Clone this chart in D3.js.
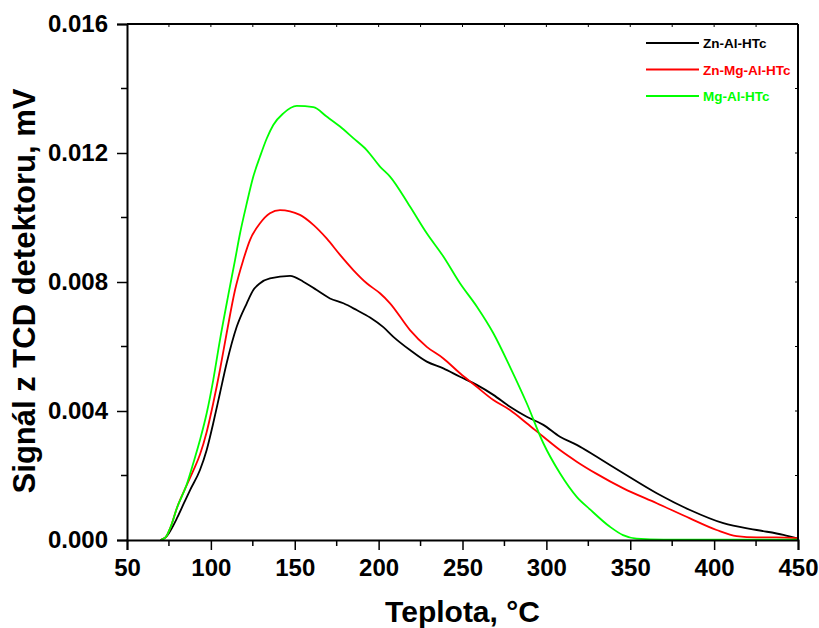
<!DOCTYPE html>
<html>
<head>
<meta charset="utf-8">
<script src="https://cdn.jsdelivr.net/npm/d3@7"></script>
<style>
  body { margin: 0; background: #fff; }
  svg text { font-family: "Liberation Sans", Arial, sans-serif; font-weight: bold; }
</style>
</head>
<body>
<div id="chart"></div>
<script>
/* global d3 */
// TPD profiles: temperature (°C) and TCD signal (mV)
var znAlT = [70, 73, 76, 80, 84, 87.6, 93.5, 97.5, 101.4, 105.4, 109.4, 115.4, 121.4, 125.3, 129.3, 135.2, 147.2, 155.1, 163.1, 171, 179, 186.9, 194.9, 202.8, 208.8, 218.7, 228.7, 238.6, 248.5, 258.5, 268.4, 278.3, 288.3, 298.2, 308.1, 318.1, 330, 345.9, 365.8, 385.6, 405.5, 425.4, 441.3, 450];
var znAlV = [0, 0.00008, 0.0003, 0.0007, 0.00115, 0.00155, 0.00217, 0.00279, 0.00362, 0.00455, 0.00548, 0.00661, 0.00734, 0.00775, 0.00796, 0.00811, 0.00819, 0.00801, 0.00775, 0.00749, 0.00734, 0.00713, 0.0069, 0.0066, 0.0063, 0.00589, 0.00553, 0.00532, 0.00506, 0.00481, 0.0045, 0.00413, 0.00382, 0.00357, 0.0032, 0.00295, 0.00258, 0.00207, 0.00145, 0.00093, 0.00052, 0.00031, 0.00016, 0.00004];

var znMgAlT = [70, 73, 76, 79.8, 85.6, 89.5, 93.5, 97.5, 101.4, 105.4, 109.4, 114.4, 119.3, 123.3, 129.3, 135.2, 141.2, 153.1, 161.1, 169, 177, 184.9, 192.9, 200.8, 206.8, 218.7, 228.7, 238.6, 248.5, 258.5, 268.4, 278.3, 288.3, 298.2, 308.1, 318.1, 330, 345.9, 365.8, 385.6, 401.5, 413.4, 425.4, 437, 450];
var znMgAlV = [0, 0.00008, 0.0004, 0.001, 0.0017, 0.00215, 0.00265, 0.00335, 0.00424, 0.00527, 0.00641, 0.00775, 0.00868, 0.0093, 0.00982, 0.01013, 0.01023, 0.01008, 0.00977, 0.00935, 0.00884, 0.00837, 0.00796, 0.00765, 0.00734, 0.00651, 0.00599, 0.00563, 0.00517, 0.00475, 0.00434, 0.00403, 0.00362, 0.0032, 0.00279, 0.00243, 0.00205, 0.0016, 0.00114, 0.00067, 0.00031, 0.00012, 0.00008, 0.00008, 0.00006];

var mgAlT = [70, 73, 76, 79.8, 85.6, 89.5, 93.5, 97.5, 101.4, 105.4, 110.4, 114.4, 117.4, 121.4, 125.3, 129.3, 133.3, 137.2, 143.2, 151.2, 161.1, 169, 177, 184.9, 192.9, 200.8, 206.8, 218.7, 228.7, 238.6, 248.5, 258.5, 268.4, 278.3, 288.3, 298.2, 308.1, 318.1, 326, 337.9, 345.7, 353.8, 370, 400, 450];
var mgAlV = [0, 0.00008, 0.0004, 0.001, 0.00172, 0.00238, 0.0031, 0.00393, 0.00496, 0.0062, 0.0076, 0.00868, 0.00951, 0.01044, 0.01127, 0.01189, 0.01245, 0.01287, 0.01323, 0.01346, 0.01342, 0.01313, 0.01282, 0.01246, 0.01209, 0.01158, 0.01127, 0.01034, 0.00951, 0.00879, 0.00796, 0.00724, 0.00641, 0.00537, 0.00424, 0.003, 0.00207, 0.00134, 0.00095, 0.00041, 0.00015, 0.00004, 0.00001, 0.00001, 0.00001];

var seriesNames = ["Zn-Al-HTc", "Zn-Mg-Al-HTc", "Mg-Al-HTc"];
var seriesColors = ["#000000", "#ff0000", "#00ff00"];
var xTicks = [50, 100, 150, 200, 250, 300, 350, 400, 450];
var yTicks = [0, 0.004, 0.008, 0.012, 0.016];

var width = 819, height = 628;
var margin = {top: 24, right: 21, bottom: 88, left: 127};
var innerW = width - margin.left - margin.right;
var innerH = height - margin.top - margin.bottom;

var series = [
    {name: seriesNames[0], color: seriesColors[0], pts: znAlT.map((t, i) => [t, znAlV[i]])},
    {name: seriesNames[1], color: seriesColors[1], pts: znMgAlT.map((t, i) => [t, znMgAlV[i]])},
    {name: seriesNames[2], color: seriesColors[2], pts: mgAlT.map((t, i) => [t, mgAlV[i]])}
];

var x = d3.scaleLinear().domain([50, 450]).range([0, innerW]);
var y = d3.scaleLinear().domain([0, 0.016]).range([innerH, 0]);

var svg = d3.select("#chart").append("svg")
    .attr("width", width)
    .attr("height", height);

var g = svg.append("g")
    .attr("transform", `translate(${margin.left},${margin.top})`);

// curves
var line = d3.line()
    .x(d => x(d[0]))
    .y(d => y(d[1]))
    .curve(d3.curveMonotoneX);

g.append("g").selectAll("path")
    .data(series)
    .join("path")
    .attr("fill", "none")
    .attr("stroke", d => d.color)
    .attr("stroke-width", 1.8)
    .attr("stroke-linejoin", "round")
    .attr("d", d => line(d.pts));

// minor ticks
var xMinor = d3.range(75, 450, 50);
var yMinor = d3.range(0.002, 0.016, 0.004);

// bottom axis
var xAxis = g.append("g")
    .attr("transform", `translate(0,${innerH})`)
    .call(d3.axisBottom(x).tickValues(xTicks).tickFormat(d3.format("d")).tickSize(10).tickPadding(9));
xAxis.selectAll("text").attr("font-size", 24).attr("fill", "#000");
xAxis.selectAll("line").attr("stroke-width", 1.5);
xAxis.selectAll(".minor")
    .data(xMinor)
    .join("line")
    .attr("class", "minor")
    .attr("x1", d => x(d)).attr("x2", d => x(d))
    .attr("y1", 0).attr("y2", 6)
    .attr("stroke", "#000").attr("stroke-width", 1.5);

// left axis
var yAxis = g.append("g")
    .call(d3.axisLeft(y).tickValues(yTicks).tickFormat(d3.format(".3f")).tickSize(10).tickPadding(9));
yAxis.selectAll("text").attr("font-size", 24).attr("fill", "#000");
yAxis.selectAll("line").attr("stroke-width", 1.5);
yAxis.selectAll(".minor")
    .data(yMinor)
    .join("line")
    .attr("class", "minor")
    .attr("x1", 0).attr("x2", -6)
    .attr("y1", d => y(d)).attr("y2", d => y(d))
    .attr("stroke", "#000").attr("stroke-width", 1.5);

[xAxis, yAxis].forEach(a => a.select(".domain").attr("stroke-width", 2));

// mirrored top / right axes with small inward ticks
g.append("line").attr("x1", 0).attr("x2", innerW).attr("y1", 0).attr("y2", 0)
    .attr("stroke", "#000").attr("stroke-width", 2);
g.append("line").attr("x1", innerW).attr("x2", innerW).attr("y1", 0).attr("y2", innerH)
    .attr("stroke", "#000").attr("stroke-width", 2);
g.append("g").selectAll("line")
    .data(d3.range(75, 450, 25))
    .join("line")
    .attr("x1", d => x(d)).attr("x2", d => x(d))
    .attr("y1", 0).attr("y2", 3)
    .attr("stroke", "#000").attr("stroke-width", 1);
g.append("g").selectAll("line")
    .data(d3.range(0.002, 0.016, 0.002))
    .join("line")
    .attr("x1", innerW).attr("x2", innerW - 3)
    .attr("y1", d => y(d)).attr("y2", d => y(d))
    .attr("stroke", "#000").attr("stroke-width", 1);

// axis titles
svg.append("text")
    .attr("x", margin.left + innerW / 2)
    .attr("y", 622)
    .attr("text-anchor", "middle")
    .attr("font-size", 30)
    .text("Teplota, °C");

svg.append("text")
    .attr("transform", "translate(35,291) rotate(-90)")
    .attr("text-anchor", "middle")
    .attr("font-size", 31)
    .text("Signál z TCD detektoru, mV");

// legend
var legend = g.append("g")
    .attr("transform", "translate(519,19)");
var item = legend.selectAll("g")
    .data(series)
    .join("g")
    .attr("transform", (d, i) => `translate(0,${i * 26.5})`);
item.append("line")
    .attr("x1", 0).attr("x2", 53)
    .attr("stroke", d => d.color)
    .attr("stroke-width", 1.8);
item.append("text")
    .attr("x", 57)
    .attr("y", 5)
    .attr("font-size", 13.5)
    .attr("fill", d => d.color)
    .text(d => d.name);
</script>
</body>
</html>
